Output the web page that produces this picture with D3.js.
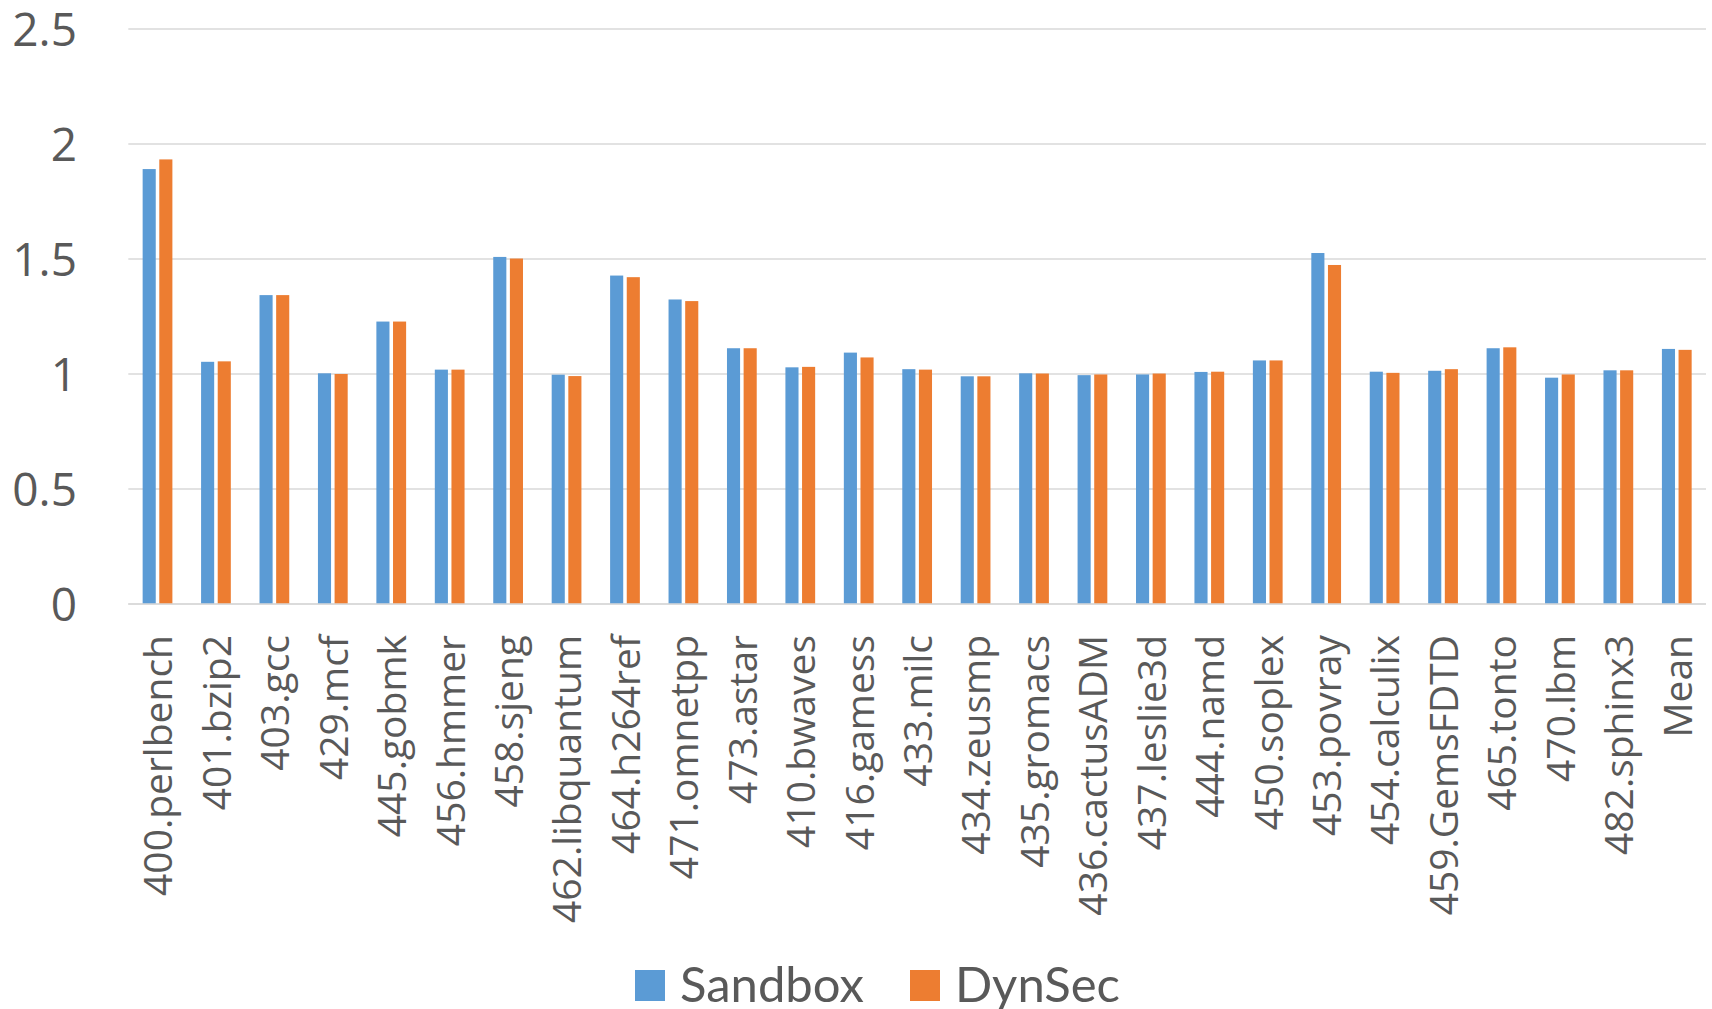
<!DOCTYPE html>
<html>
<head>
<meta charset="utf-8">
<script src="https://cdn.jsdelivr.net/npm/d3@7"></script>
<style>
  html, body { margin: 0; padding: 0; background: #ffffff; }
  svg { display: block; }
</style>
</head>
<body>
<svg id="chart" width="1712" height="1009"></svg>
<script>
// SPEC CPU2006 benchmarks, normalized runtime overhead
const categories = [
  "400.perlbench", "401.bzip2", "403.gcc", "429.mcf", "445.gobmk", "456.hmmer",
  "458.sjeng", "462.libquantum", "464.h264ref", "471.omnetpp", "473.astar",
  "410.bwaves", "416.gamess", "433.milc", "434.zeusmp", "435.gromacs",
  "436.cactusADM", "437.leslie3d", "444.namd", "450.soplex", "453.povray",
  "454.calculix", "459.GemsFDTD", "465.tonto", "470.lbm", "482.sphinx3", "Mean"
];
const sandbox = [
  1.891, 1.053, 1.343, 1.003, 1.228, 1.019, 1.509, 0.997, 1.428, 1.324, 1.112,
  1.029, 1.093, 1.021, 0.990, 1.003, 0.995, 0.998, 1.009, 1.059, 1.526,
  1.010, 1.014, 1.112, 0.984, 1.016, 1.109
];
const dynsec = [
  1.933, 1.055, 1.343, 1.000, 1.228, 1.019, 1.502, 0.991, 1.421, 1.317, 1.112,
  1.031, 1.072, 1.019, 0.990, 1.002, 0.998, 1.002, 1.010, 1.059, 1.474,
  1.005, 1.021, 1.116, 0.998, 1.016, 1.105
];
const seriesNames = ["Sandbox", "DynSec"];
const seriesColors = ["#5B9BD5", "#ED7D31"];
const yTicks = [0, 0.5, 1, 1.5, 2, 2.5];

const svg = d3.select("#chart");
const plot = { left: 128.3, right: 1706, top: 29, bottom: 604 };

const x0 = d3.scaleBand()
  .domain(categories)
  .range([plot.left, plot.right])
  .padding(0);

// two bars per category, small gap between them, wide gap between categories
const x1 = d3.scaleBand()
  .domain(seriesNames)
  .range([0, x0.bandwidth()])
  .paddingInner(0.2126)
  .paddingOuter(0.862);

const y = d3.scaleLinear()
  .domain([0, 2.5])
  .range([plot.bottom, plot.top]);

const textColor = "#595959";

// horizontal gridlines
svg.append("g")
  .selectAll("line")
  .data(yTicks)
  .join("line")
  .attr("x1", plot.left)
  .attr("x2", plot.right)
  .attr("y1", d => y(d))
  .attr("y2", d => y(d))
  .attr("stroke", "#D9D9D9")
  .attr("stroke-width", 1.5);

// y tick labels
svg.append("g")
  .selectAll("text")
  .data(yTicks)
  .join("text")
  .attr("x", 77)
  .attr("y", d => y(d))
  .attr("dy", "0.36em")
  .attr("text-anchor", "end")
  .attr("font-family", "'Open Sans', sans-serif")
  .attr("font-size", 46)
  .attr("fill", textColor)
  .text(d => String(d));

// bars
const rows = categories.map((c, i) => ({ cat: c, vals: [sandbox[i], dynsec[i]] }));
const groups = svg.append("g")
  .selectAll("g")
  .data(rows)
  .join("g")
  .attr("transform", d => `translate(${x0(d.cat)},0)`);

groups.selectAll("rect")
  .data(d => d.vals.map((v, k) => ({ key: seriesNames[k], v, k })))
  .join("rect")
  .attr("x", d => x1(d.key))
  .attr("width", x1.bandwidth())
  .attr("y", d => y(d.v))
  .attr("height", d => y(0) - y(d.v))
  .attr("fill", d => seriesColors[d.k]);

// baseline
svg.append("line")
  .attr("x1", plot.left)
  .attr("x2", plot.right)
  .attr("y1", y(0))
  .attr("y2", y(0))
  .attr("stroke", "#D9D9D9")
  .attr("stroke-width", 1.5);

// rotated category labels
svg.append("g")
  .selectAll("text")
  .data(categories)
  .join("text")
  .attr("transform", d => `translate(${x0(d) + x0.bandwidth() / 2},635) rotate(-90)`)
  .attr("dy", "0.38em")
  .attr("text-anchor", "end")
  .attr("font-family", "'Open Sans', sans-serif")
  .attr("font-size", 39)
  .attr("fill", textColor)
  .text(d => d);

// legend
const legend = svg.append("g");
const legendItems = [
  { name: "Sandbox", color: seriesColors[0], x: 635 },
  { name: "DynSec", color: seriesColors[1], x: 910 }
];
legendItems.forEach(item => {
  legend.append("rect")
    .attr("x", item.x)
    .attr("y", 970)
    .attr("width", 30)
    .attr("height", 31)
    .attr("fill", item.color);
  legend.append("text")
    .attr("x", item.x + 45)
    .attr("y", 1002)
    .attr("font-family", "Lato, sans-serif")
    .attr("font-size", 49)
    .attr("fill", textColor)
    .text(item.name);
});
</script>
</body>
</html>
